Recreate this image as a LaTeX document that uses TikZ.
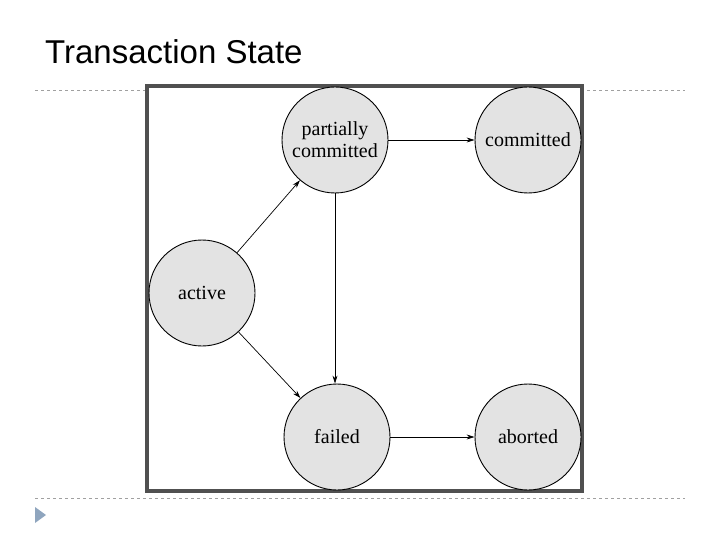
\documentclass[tikz,border=0pt]{standalone}
\usepackage{fontspec}
\setmainfont{Liberation Serif}
\newfontfamily\titlefont{Liberation Sans}
\usetikzlibrary{arrows.meta}
\definecolor{boxc}{HTML}{505050}
\definecolor{dashc}{HTML}{A0A0A0}
\definecolor{tric}{HTML}{8FA5BE}
\tikzset{
  st/.style={circle,draw=black,line width=0.9pt,fill=black!11,minimum size=106pt,inner sep=0pt,align=center,font=\fontsize{20}{22}\selectfont},
  arr/.style={-{Stealth[length=8pt,width=5pt]},line width=0.7pt},
}
\begin{document}
\begin{tikzpicture}[x=1pt,y=-1pt]
\useasboundingbox (0,0) rectangle (720,540);
\node[anchor=west,inner sep=0pt,font=\titlefont\fontsize{33}{33}\selectfont] (title) at (45,52) {Transaction State};
\draw[dashc,dashed,line width=0.6pt] (35,90) -- (685,90);
\draw[dashc,dashed,line width=0.6pt] (35,498) -- (685,498);
\fill[tric] (35,507) -- (46,515) -- (35,523) -- cycle;
\draw[boxc,line width=4pt,fill=white] (147,86) rectangle (582,491);
\node[st] (pc) at (335,140) {partially\\committed};
\node[st] (cm) at (528,140) {committed};
\node[st] (ac) at (202,293) {active};
\node[st] (fa) at (337,437) {failed};
\node[st] (ab) at (528,437) {aborted};
\draw[arr] (ac) -- (pc);
\draw[arr] (ac) -- (fa);
\draw[arr] (pc) -- (cm);
\draw[arr] (pc.south) -- (fa.north -| pc.south);
\draw[arr] (fa) -- (ab);
\end{tikzpicture}
\end{document}
